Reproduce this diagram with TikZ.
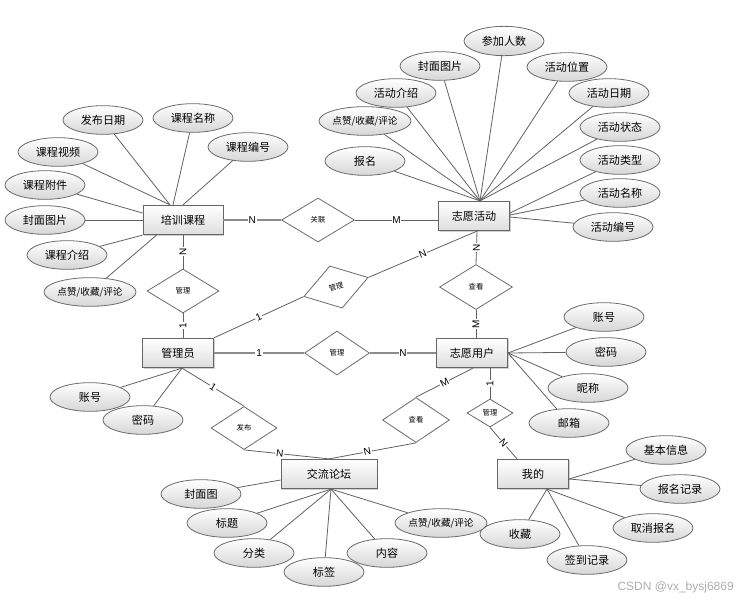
\documentclass[tikz,border=0pt]{standalone}
\usepackage{fontspec}
\setmainfont{Liberation Sans}
\newfontfamily\cjk{Noto Sans CJK SC}
\usetikzlibrary{shapes.geometric,calc,shadows}
\begin{document}
\begin{tikzpicture}[x=0.75pt,y=-0.75pt,
  line/.style={draw=black!62, line width=0.6pt},
  thick line/.style={draw=black!45, line width=1.1pt},
  ent/.style={rectangle, draw=black!60, line width=0.7pt, top color=white, bottom color=black!13,
    minimum width=53.25pt, minimum height=22pt, inner sep=0pt, font=\cjk\fontsize{8.3}{9}\selectfont,
    drop shadow={shadow xshift=0.8pt, shadow yshift=-0.8pt, fill=black!30, opacity=0.6}},
  att/.style={ellipse, draw=black!58, line width=0.6pt, top color=white, bottom color=black!16,
    minimum width=60pt, minimum height=21.5pt, inner sep=0pt, font=\cjk\fontsize{8.3}{9}\selectfont},
  attsm/.style={att, font=\cjk\fontsize{7.2}{8}\selectfont},
  rel/.style={diamond, draw=black!58, line width=0.6pt, fill=white, inner sep=0pt,
    minimum width=54pt, minimum height=33pt, font=\cjk\fontsize{5.5}{6}\selectfont},
  card/.style={fill=white, inner sep=0.6pt, font=\fontsize{7.5}{8}\selectfont},
]
\useasboundingbox (0,0) rectangle (746,600);

% entities
\node[ent, minimum width=60pt] (c1) at (183,220) {培训课程};
\node[ent] (act) at (474,216) {志愿活动};
\node[ent] (adm) at (178,353) {管理员};
\node[ent] (usr) at (472,353) {志愿用户};
\node[ent, minimum width=72pt] (frm) at (329,474) {交流论坛};
\node[ent] (my) at (533,474) {我的};

% relationships
\node[rel, minimum width=54.75pt] (r1) at (318,220) {关联};
\node[rel] (r2) at (183,291) {管理};
\node[rel, minimum width=50.25pt, rotate=16.5] (r3) at (336,287) {管理};
\node[rel, minimum width=54.75pt, minimum height=33.75pt] (r4) at (476,287) {查看};
\node[rel, minimum width=48.75pt] (r5) at (337,353) {管理};
\node[rel, minimum width=49.5pt, minimum height=32.25pt] (r6) at (244,428) {发布};
\node[rel, minimum width=50.25pt, minimum height=33.75pt] (r7) at (416,420) {查看};
\node[rel, minimum width=34.5pt, minimum height=21pt] (r8) at (490,413) {管理};

% relationship connectors
\draw[thick line] (c1.east) -- node[card]{N} (r1.west);
\draw[line] (r1.east) -- node[card]{M} (act.west |- r1.east);
\draw[line] (c1.south) -- node[card, rotate=90]{N} (r2.north);
\draw[line] (r2.south) -- node[card, rotate=90]{1} (r2.south |- adm.north);
\draw[line] (adm.north east) -- node[card, rotate=25]{1} (r3.west);
\coordinate (acts) at ($(act.south)+(3,0)$);
\draw[line] (r3.east) -- node[card, rotate=22]{N} (acts);
\draw[line] (acts) -- node[card, rotate=90]{N} (r4.north);
\draw[line] (r4.south) -- node[card, rotate=90]{M} (r4.south |- usr.north);
\draw[thick line] (adm.east) -- node[card]{1} (r5.west);
\draw[thick line] (r5.east) -- node[card]{N} (usr.west);
\coordinate (adms) at ($(adm.south)+(4,0)$);
\draw[line] (adms) -- node[card, rotate=-33]{1} (r6.north);
\draw[line] (r6.south) -- node[card, pos=0.42, rotate=-6]{N} (frm.north);
\draw[line] (frm.north) -- node[card, pos=0.44, rotate=11]{N} (r7.south);
\draw[line] (r7.north) -- node[card, rotate=27]{M} ($(usr.south)+(1,0)$);
\draw[line] ($(usr.south)+(18,0)$) -- node[card, rotate=90]{1} (r8.north);
\draw[line] (r8.south) -- node[card, rotate=-49]{N} ($(my.north)+(-16,0)$);

% 培训课程 attributes
\node[att] (a1) at (103,120) {发布日期};
\node[att] (a2) at (193,118) {课程名称};
\node[att] (a3) at (248,147) {课程编号};
\node[att] (a4) at (58,152) {课程视频};
\node[att] (a5) at (45,185) {课程附件};
\node[att] (a6) at (45,220) {封面图片};
\node[att] (a7) at (67,255) {课程介绍};
\node[attsm] (a8) at (90,292) {点赞/收藏/评论};
\draw[line] (a1) -- ($(c1.north)+(-13,0)$);
\draw[line] (a2) -- ($(c1.north)+(-10,0)$);
\draw[line] (a3) -- (c1.north);
\draw[line] (a4) -- ($(c1.north)+(-13,0)$);
\draw[line] (a5) -- ($(c1.west)+(0,-7)$);
\draw[line] (a6) -- (c1.west);
\draw[line] (a7) -- (c1.south west);
\draw[line] (a8) -- ($(c1.south west)+(14,0)$);

% 志愿活动 attributes
\node[att, minimum height=22pt] (b1) at (504,41) {参加人数};
\node[att] (b2) at (440,66) {封面图片};
\node[att] (b3) at (567,67) {活动位置};
\node[att] (b4) at (396,93) {活动介绍};
\node[att] (b5) at (609,93) {活动日期};
\node[attsm] (b6) at (365,121) {点赞/收藏/评论};
\node[att] (b7) at (620,127) {活动状态};
\node[att] (b8) at (365,161) {报名};
\node[att] (b9) at (620,160) {活动类型};
\node[att] (b10) at (620,193) {活动名称};
\node[att] (b11) at (613,227) {活动编号};
\coordinate (acth) at ($(act.north)+(6,0)$);
\foreach \n in {b1,b2,b3,b4,b5,b6,b7,b8} \draw[line] (\n) -- (acth);
\draw[line] (b9) -- ($(act.east)+(0,-3)$);
\draw[line] (b10) -- ($(act.east)+(0,-1)$);
\draw[line] (b11) -- ($(act.east)+(0,1)$);

% 管理员 attributes
\node[att] (d1) at (90,397) {账号};
\node[att] (d2) at (143,420) {密码};
\draw[line] (d1) -- (adms);
\draw[line] (d2) -- (adms);

% 志愿用户 attributes
\node[att] (e1) at (604,317) {账号};
\node[att] (e2) at (606,352) {密码};
\node[att] (e3) at (588,388) {昵称};
\node[att] (e4) at (569,423) {邮箱};
\foreach \n in {e1,e2,e3,e4} \draw[line] (\n) -- (usr.east);

% 我的 attributes
\node[att] (f1) at (666,450) {基本信息};
\node[att] (f2) at (680,489) {报名记录};
\node[att] (f3) at (653,528) {取消报名};
\node[att] (f4) at (520,534) {收藏};
\node[att] (f5) at (587,560) {签到记录};
\coordinate (mye) at ($(my.east)+(0,5)$);
\coordinate (mys) at ($(my.south)+(14,0)$);
\draw[line] (f1) -- (mye);
\draw[line] (f2) -- (mye);
\foreach \n in {f3,f4,f5} \draw[line] (\n) -- (mys);

% 交流论坛 attributes
\node[att] (g1) at (201,494) {封面图};
\node[att] (g2) at (227,523) {标题};
\node[att] (g3) at (254,553) {分类};
\node[att] (g4) at (324,572) {标签};
\node[att] (g5) at (387,553) {内容};
\node[attsm] (g6) at (441,523) {点赞/收藏/评论};
\draw[line] (g1) -- ($(frm.west)+(0,6)$);
\coordinate (frms) at ($(frm.south)+(2,0)$);
\foreach \n in {g2,g3,g4,g5,g6} \draw[line] (\n) -- (frms);

% watermark
\node[text=black!32, font=\fontsize{9}{10}\selectfont, anchor=east, inner sep=0pt] (wm) at (734,587) {CSDN @vx\_bysj6869};
\end{tikzpicture}
\end{document}
